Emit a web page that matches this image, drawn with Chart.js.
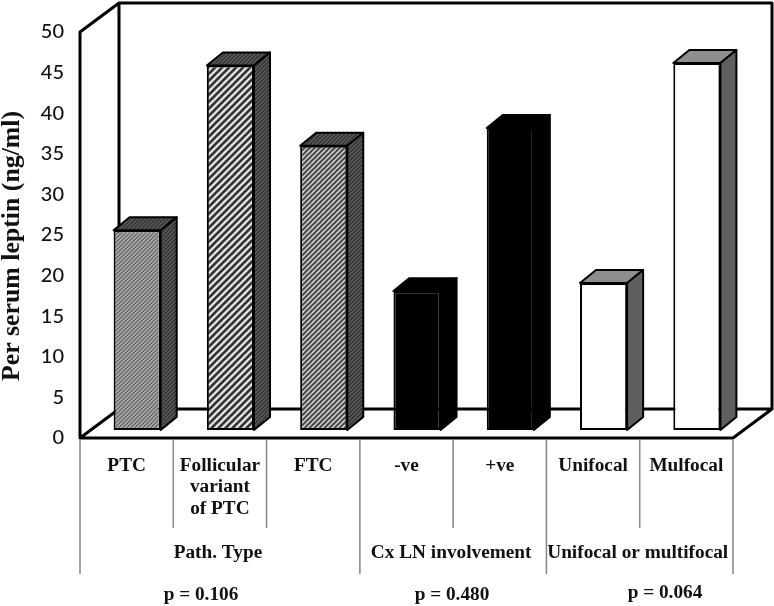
<!DOCTYPE html>
<html>
<head>
<meta charset="utf-8">
<script src="https://cdn.jsdelivr.net/npm/chart.js@4"></script>
<style>
  html, body { margin: 0; padding: 0; background: #fff; }
  canvas { display: block; }
</style>
</head>
<body>
<canvas id="chart" width="774" height="606"></canvas>
<script>
const categories = ["PTC", ["Follicular", "variant", "of PTC"], "FTC", "-ve", "+ve", "Unifocal", "Mulfocal"];
const leptin = [24.6, 44.9, 35, 17.1, 37.2, 18.1, 45.2];
const yTicks = [0, 5, 10, 15, 20, 25, 30, 35, 40, 45, 50];
const yTitle = "Per serum leptin (ng/ml)";
const groups = ["Path. Type", "Cx LN involvement", "Unifocal or multifocal"];
const groupSizes = [3, 2, 2];
const pValues = ["p = 0.106", "p = 0.480", "p = 0.064"];

const serif = '"Liberation Serif", serif';
const shiftX = 10.5, shiftY = -8;   // bars stand a bit inside the floor
const depthX = 16, depthY = -13;    // bar depth
const wallX = 39, wallY = -29;      // chart depth

function hatch(bg, fg, period, lineW) {
  const c = document.createElement("canvas");
  c.width = c.height = period;
  const g = c.getContext("2d");
  g.fillStyle = bg;
  g.fillRect(0, 0, period, period);
  g.strokeStyle = fg;
  g.lineWidth = lineW;
  for (let i = -1; i <= 1; i++) {
    g.beginPath();
    g.moveTo(i * period - 1, period + 1);
    g.lineTo(i * period + period + 1, -1);
    g.stroke();
  }
  return g.createPattern(c, "repeat");
}

const fronts = [
  hatch("#c8c8c8", "#555", 4, 1.5),
  hatch("#f8f8f8", "#2e2e2e", 7, 2.7),
  hatch("#ececec", "#3a3a3a", 5, 2),
  "#000", "#000", "#fff", "#fff"
];
const dark = hatch("#666", "#2a2a2a", 4, 1.5);
const tops = [dark, dark, dark, "#000", "#000", "#8e8e8e", "#8e8e8e"];
const sides = [dark, dark, dark, "#000", "#000", "#5f5f5f", "#5f5f5f"];

function poly(ctx, pts, fill) {
  ctx.beginPath();
  pts.forEach((p, i) => i ? ctx.lineTo(p[0], p[1]) : ctx.moveTo(p[0], p[1]));
  ctx.closePath();
  if (fill) { ctx.fillStyle = fill; ctx.fill(); }
  ctx.stroke();
}

const box3d = {
  id: "box3d",
  beforeDatasetsDraw(chart) {
    const ctx = chart.ctx;
    const { left, right, top, bottom } = chart.chartArea;
    ctx.save();
    ctx.strokeStyle = "#000";
    ctx.lineWidth = 3;
    ctx.lineJoin = "round";
    // back wall + floor
    ctx.beginPath();
    ctx.moveTo(left, bottom);
    ctx.lineTo(left, top);
    ctx.lineTo(left + wallX, top + wallY);
    ctx.lineTo(right + wallX, top + wallY);
    ctx.lineTo(right + wallX, bottom + wallY);
    ctx.lineTo(right, bottom);
    ctx.lineTo(left, bottom);
    ctx.lineTo(left + wallX, bottom + wallY);
    ctx.lineTo(right + wallX, bottom + wallY);
    ctx.moveTo(left + wallX, top + wallY);
    ctx.lineTo(left + wallX, bottom + wallY);
    ctx.stroke();
    ctx.restore();

    // bars are shifted onto the floor, undone in afterDatasetsDraw
    ctx.save();
    ctx.translate(shiftX, shiftY);
  },
  afterDatasetsDraw(chart) {
    const ctx = chart.ctx;
    ctx.strokeStyle = "#000";
    ctx.lineWidth = 2;
    ctx.lineJoin = "round";
    chart.getDatasetMeta(0).data.forEach((bar, i) => {
      const l = bar.x - bar.width / 2, r = bar.x + bar.width / 2;
      poly(ctx, [[l, bar.y], [l + depthX, bar.y + depthY], [r + depthX, bar.y + depthY], [r, bar.y]], tops[i]);
      poly(ctx, [[r, bar.y], [r + depthX, bar.y + depthY], [r + depthX, bar.base + depthY], [r, bar.base]], sides[i]);
    });
    ctx.restore();

    const x = chart.scales.x;
    const bottom = chart.chartArea.bottom;
    const cell = x.getPixelForValue(1) - x.getPixelForValue(0);
    const edge = (n) => x.getPixelForValue(0) - cell / 2 + n * cell;

    // category and group dividers below the floor
    ctx.save();
    ctx.strokeStyle = "#8c8c8c";
    ctx.lineWidth = 1.6;
    let count = 0;
    const groupEdges = [0];
    groupSizes.forEach((n) => { count += n; groupEdges.push(count); });
    for (let n = 0; n <= categories.length; n++) {
      ctx.beginPath();
      ctx.moveTo(edge(n), bottom + 2);
      ctx.lineTo(edge(n), bottom + (groupEdges.includes(n) ? 136 : 90));
      ctx.stroke();
    }

    ctx.fillStyle = "#111";
    ctx.font = "bold 19.3px " + serif;
    ctx.textAlign = "center";
    ctx.textBaseline = "middle";
    groups.forEach((g, i) => {
      ctx.fillText(g, (edge(groupEdges[i]) + edge(groupEdges[i + 1])) / 2 - 2, 553);
    });
    const pX = [201, 452, 665];
    const pY = [595, 595, 593];
    pValues.forEach((p, i) => ctx.fillText(p, pX[i], pY[i]));

    ctx.translate(12, 246);
    ctx.rotate(-Math.PI / 2);
    ctx.font = "bold 25.8px " + serif;
    ctx.fillText(yTitle, 0, 0);
    ctx.restore();
  }
};

new Chart(document.getElementById("chart"), {
  type: "bar",
  data: {
    labels: categories,
    datasets: [{
      data: leptin,
      backgroundColor: fronts,
      borderColor: "#000",
      borderWidth: 2,
      borderSkipped: false,
      barPercentage: 0.505,
      categoryPercentage: 1,
      clip: false
    }]
  },
  options: {
    responsive: false,
    animation: false,
    layout: { padding: { top: 32, right: 41, bottom: 0, left: 0 } },
    plugins: { legend: { display: false }, tooltip: { enabled: false }, title: { display: false } },
    scales: {
      x: {
        afterFit(scale) { scale.height = 168; },
        grid: { display: false, drawTicks: false },
        border: { display: false },
        ticks: {
          color: "#111",
          padding: 17,
          maxRotation: 0,
          autoSkip: false,
          font: { family: serif, size: 19.3, weight: "bold", lineHeight: 1.115 }
        }
      },
      y: {
        min: 0,
        max: 50,
        afterFit(scale) { scale.width = 80; },
        afterBuildTicks(scale) { scale.ticks = yTicks.map((v) => ({ value: v })); },
        grid: { display: false, drawTicks: true, tickLength: 5, tickColor: "#999" },
        border: { display: false },
        ticks: {
          color: "#111",
          padding: 11,
          font: { family: "Lato", size: 20, weight: "500" }
        }
      }
    }
  },
  plugins: [box3d]
});
</script>
</body>
</html>
